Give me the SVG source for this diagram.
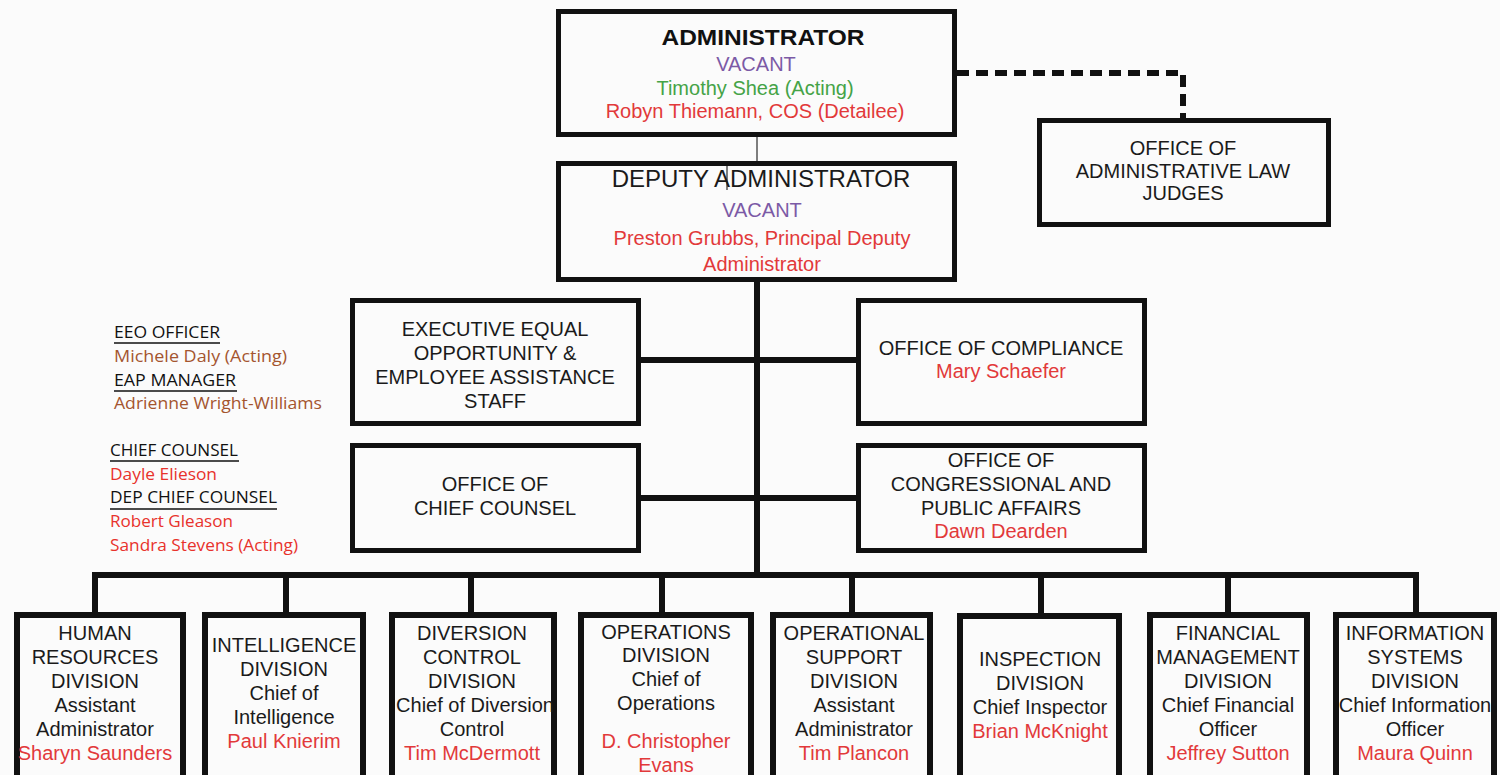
<svg xmlns="http://www.w3.org/2000/svg" width="1500" height="775" viewBox="0 0 1500 775">
  <style>
    .box { fill: none; stroke: #111111; stroke-width: 5; }
    .div { fill: none; stroke: #111111; stroke-width: 6; }
    .t { font-family: "Liberation Sans", Arial, sans-serif; font-size: 20px; fill: #1a1a1a; text-anchor: middle; }
    .title { font-family: "Liberation Sans", Arial, sans-serif; font-size: 22px; font-weight: bold; fill: #111111; text-anchor: middle; }
    .big { font-size: 24px; }
    .vac { fill: #7b5aa6; }
    .act { fill: #45a347; }
    .name { fill: #e2393a; }
    .lbl { font-family: "Open Sans", Lato, sans-serif; font-size: 17px; fill: #111111; }
    .lblb { fill: #a4552f; }
    .lblr { fill: #e8322c; }
    .ul { stroke: #111111; stroke-width: 1.6; }
    .wire { stroke: #111111; stroke-width: 6; fill: none; }
    .thin { stroke: #555555; stroke-width: 1.5; fill: none; }
    .dash { stroke: #111111; stroke-width: 6; fill: none; stroke-dasharray: 12 7; }
  </style>

  <rect x="0" y="0" width="1500" height="775" fill="#fbfbfb"/>

  <!-- connectors -->
  <g id="connectors">
    <line class="thin" x1="757" y1="137" x2="757" y2="162"/>
    <line class="thin" x1="727" y1="162" x2="727" y2="190"/>
    <polyline class="dash" points="957,73 1183,73 1183,118"/>
    <line class="wire" x1="757" y1="282" x2="757" y2="578"/>
    <line class="wire" x1="641" y1="360" x2="856" y2="360"/>
    <line class="wire" x1="641" y1="498" x2="856" y2="498"/>
    <polyline class="wire" points="95,612 95,575 1416,575 1416,612"/>
    <line class="wire" x1="286" y1="575" x2="286" y2="612"/>
    <line class="wire" x1="471" y1="575" x2="471" y2="612"/>
    <line class="wire" x1="662" y1="575" x2="662" y2="612"/>
    <line class="wire" x1="852" y1="575" x2="852" y2="612"/>
    <line class="wire" x1="1041" y1="575" x2="1041" y2="613"/>
    <line class="wire" x1="1228" y1="575" x2="1228" y2="612"/>
  </g>

  <!-- top leadership -->
  <g id="administrator">
    <rect class="box" x="558.5" y="11.5" width="396" height="123"/>
    <text class="title" x="763" y="45" textLength="203" lengthAdjust="spacingAndGlyphs">ADMINISTRATOR</text>
    <text class="t vac" x="756" y="71">VACANT</text>
    <text class="t act" x="755" y="95">Timothy Shea (Acting)</text>
    <text class="t name" x="755" y="118">Robyn Thiemann, COS (Detailee)</text>
  </g>

  <g id="deputy-administrator">
    <rect class="box" x="558.5" y="163.5" width="396" height="116"/>
    <text class="t big" x="761" y="187">DEPUTY ADMINISTRATOR</text>
    <text class="t vac" x="762" y="217">VACANT</text>
    <text class="t name" x="762" y="245">Preston Grubbs, Principal Deputy</text>
    <text class="t name" x="762" y="271">Administrator</text>
  </g>

  <g id="administrative-law-judges">
    <rect class="box" x="1039.5" y="120.5" width="289" height="104"/>
    <text class="t" x="1183" y="155">OFFICE OF</text>
    <text class="t" x="1183" y="178">ADMINISTRATIVE LAW</text>
    <text class="t" x="1183" y="200">JUDGES</text>
  </g>

  <!-- staff offices -->
  <g id="eeo-staff">
    <rect class="box" x="352.5" y="300.5" width="286" height="123"/>
    <text class="t" x="495" y="336">EXECUTIVE EQUAL</text>
    <text class="t" x="495" y="360">OPPORTUNITY &amp;</text>
    <text class="t" x="495" y="384">EMPLOYEE ASSISTANCE</text>
    <text class="t" x="495" y="408">STAFF</text>
  </g>

  <g id="chief-counsel">
    <rect class="box" x="352.5" y="445.5" width="286" height="105"/>
    <text class="t" x="495" y="491">OFFICE OF</text>
    <text class="t" x="495" y="515">CHIEF COUNSEL</text>
  </g>

  <g id="compliance">
    <rect class="box" x="858.5" y="300.5" width="286" height="123"/>
    <text class="t" x="1001" y="355">OFFICE OF COMPLIANCE</text>
    <text class="t name" x="1001" y="378">Mary Schaefer</text>
  </g>

  <g id="congressional-affairs">
    <rect class="box" x="858.5" y="445.5" width="286" height="105"/>
    <text class="t" x="1001" y="467">OFFICE OF</text>
    <text class="t" x="1001" y="491">CONGRESSIONAL AND</text>
    <text class="t" x="1001" y="515">PUBLIC AFFAIRS</text>
    <text class="t name" x="1001" y="538">Dawn Dearden</text>
  </g>

  <!-- staff office leads -->
  <g id="eeo-leads">
    <text class="lbl" x="114" y="338" textLength="106" lengthAdjust="spacingAndGlyphs">EEO OFFICER</text>
    <line class="ul" x1="114" y1="343" x2="220" y2="343"/>
    <text class="lbl lblb" x="114" y="362" textLength="173" lengthAdjust="spacingAndGlyphs">Michele Daly (Acting)</text>
    <text class="lbl" x="114" y="386" textLength="122" lengthAdjust="spacingAndGlyphs">EAP MANAGER</text>
    <line class="ul" x1="114" y1="391" x2="237" y2="391"/>
    <text class="lbl lblb" x="114" y="409" textLength="208" lengthAdjust="spacingAndGlyphs">Adrienne Wright-Williams</text>
  </g>

  <g id="counsel-leads">
    <text class="lbl" x="110" y="456" textLength="128" lengthAdjust="spacingAndGlyphs">CHIEF COUNSEL</text>
    <line class="ul" x1="110" y1="461" x2="239" y2="461"/>
    <text class="lbl lblr" x="110" y="480" textLength="107" lengthAdjust="spacingAndGlyphs">Dayle Elieson</text>
    <text class="lbl" x="110" y="503" textLength="167" lengthAdjust="spacingAndGlyphs">DEP CHIEF COUNSEL</text>
    <line class="ul" x1="110" y1="509" x2="277" y2="509"/>
    <text class="lbl lblr" x="110" y="527" textLength="123" lengthAdjust="spacingAndGlyphs">Robert Gleason</text>
    <text class="lbl lblr" x="110" y="551" textLength="188" lengthAdjust="spacingAndGlyphs">Sandra Stevens (Acting)</text>
  </g>

  <!-- divisions -->
  <g id="human-resources">
    <rect class="div" x="17" y="615" width="166" height="190"/>
    <text class="t" x="95" y="640">HUMAN</text>
    <text class="t" x="95" y="664">RESOURCES</text>
    <text class="t" x="95" y="688">DIVISION</text>
    <text class="t" x="95" y="712">Assistant</text>
    <text class="t" x="95" y="736">Administrator</text>
    <text class="t name" x="95" y="760">Sharyn Saunders</text>
  </g>

  <g id="intelligence">
    <rect class="div" x="205" y="615" width="158" height="190"/>
    <text class="t" x="284" y="652">INTELLIGENCE</text>
    <text class="t" x="284" y="676">DIVISION</text>
    <text class="t" x="284" y="700">Chief of</text>
    <text class="t" x="284" y="724">Intelligence</text>
    <text class="t name" x="284" y="748">Paul Knierim</text>
  </g>

  <g id="diversion-control">
    <rect class="div" x="392" y="615" width="162" height="190"/>
    <text class="t" x="472" y="640">DIVERSION</text>
    <text class="t" x="472" y="664">CONTROL</text>
    <text class="t" x="472" y="688">DIVISION</text>
    <text class="t" x="475" y="712">Chief of Diversion</text>
    <text class="t" x="472" y="736">Control</text>
    <text class="t name" x="472" y="760">Tim McDermott</text>
  </g>

  <g id="operations">
    <rect class="div" x="581" y="615" width="170" height="190"/>
    <text class="t" x="666" y="639">OPERATIONS</text>
    <text class="t" x="666" y="662">DIVISION</text>
    <text class="t" x="666" y="686">Chief of</text>
    <text class="t" x="666" y="710">Operations</text>
    <text class="t name" x="666" y="748">D. Christopher</text>
    <text class="t name" x="666" y="772">Evans</text>
  </g>

  <g id="operational-support">
    <rect class="div" x="773" y="615" width="157" height="190"/>
    <text class="t" x="854" y="640">OPERATIONAL</text>
    <text class="t" x="854" y="664">SUPPORT</text>
    <text class="t" x="854" y="688">DIVISION</text>
    <text class="t" x="854" y="712">Assistant</text>
    <text class="t" x="854" y="736">Administrator</text>
    <text class="t name" x="854" y="760">Tim Plancon</text>
  </g>

  <g id="inspection">
    <rect class="div" x="960" y="616" width="159" height="190"/>
    <text class="t" x="1040" y="666">INSPECTION</text>
    <text class="t" x="1040" y="690">DIVISION</text>
    <text class="t" x="1040" y="714">Chief Inspector</text>
    <text class="t name" x="1040" y="738">Brian McKnight</text>
  </g>

  <g id="financial-management">
    <rect class="div" x="1150" y="615" width="157" height="190"/>
    <text class="t" x="1228" y="640">FINANCIAL</text>
    <text class="t" x="1228" y="664">MANAGEMENT</text>
    <text class="t" x="1228" y="688">DIVISION</text>
    <text class="t" x="1228" y="712">Chief Financial</text>
    <text class="t" x="1228" y="736">Officer</text>
    <text class="t name" x="1228" y="760">Jeffrey Sutton</text>
  </g>

  <g id="information-systems">
    <rect class="div" x="1336" y="615" width="158" height="190"/>
    <text class="t" x="1415" y="640">INFORMATION</text>
    <text class="t" x="1415" y="664">SYSTEMS</text>
    <text class="t" x="1415" y="688">DIVISION</text>
    <text class="t" x="1415" y="712">Chief Information</text>
    <text class="t" x="1415" y="736">Officer</text>
    <text class="t name" x="1415" y="760">Maura Quinn</text>
  </g>
</svg>
